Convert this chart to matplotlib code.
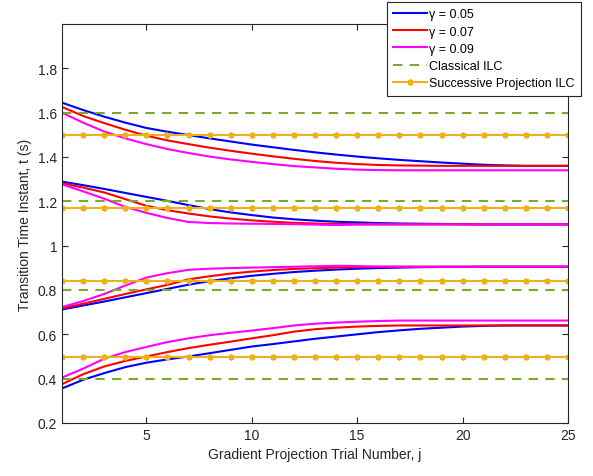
import matplotlib
matplotlib.use("Agg")
import matplotlib.pyplot as plt
import numpy as np

plt.rcParams['font.family'] = ['Liberation Sans', 'DejaVu Sans']

j = np.arange(1, 26)

# gamma = 0.05 (blue)
blue_1 = [1.645, 1.612, 1.582, 1.555, 1.531, 1.514, 1.499, 1.484, 1.470, 1.456, 1.444, 1.432, 1.421,
          1.411, 1.402, 1.394, 1.387, 1.381, 1.375, 1.370, 1.365, 1.362, 1.360, 1.360, 1.360]
blue_2 = [1.289, 1.273, 1.256, 1.238, 1.220, 1.202, 1.183, 1.165, 1.150, 1.138, 1.127, 1.119, 1.113,
          1.108, 1.105, 1.102, 1.100, 1.099, 1.098, 1.097, 1.096, 1.096, 1.096, 1.096, 1.096]
blue_3 = [0.712, 0.730, 0.748, 0.767, 0.786, 0.805, 0.824, 0.840, 0.853, 0.864, 0.873, 0.881, 0.887,
          0.892, 0.896, 0.899, 0.901, 0.903, 0.904, 0.904, 0.905, 0.905, 0.905, 0.905, 0.905]
blue_4 = [0.356, 0.395, 0.425, 0.452, 0.472, 0.487, 0.500, 0.515, 0.530, 0.545, 0.556, 0.568, 0.580,
          0.590, 0.600, 0.610, 0.618, 0.625, 0.630, 0.635, 0.638, 0.640, 0.640, 0.640, 0.640]

# gamma = 0.07 (red)
red_1 = [1.626, 1.585, 1.553, 1.523, 1.496, 1.475, 1.458, 1.442, 1.428, 1.415, 1.403, 1.392, 1.382,
         1.374, 1.368, 1.364, 1.362, 1.361, 1.360, 1.360, 1.360, 1.360, 1.360, 1.360, 1.360]
red_2 = [1.282, 1.262, 1.240, 1.210, 1.180, 1.160, 1.145, 1.132, 1.122, 1.114, 1.108, 1.103, 1.100,
         1.098, 1.097, 1.096, 1.096, 1.096, 1.096, 1.096, 1.096, 1.096, 1.096, 1.096, 1.096]
red_3 = [0.717, 0.738, 0.760, 0.782, 0.803, 0.823, 0.848, 0.862, 0.874, 0.883, 0.890, 0.895, 0.898,
         0.901, 0.903, 0.904, 0.905, 0.905, 0.905, 0.905, 0.905, 0.905, 0.905, 0.905, 0.905]
red_4 = [0.375, 0.420, 0.455, 0.480, 0.500, 0.520, 0.538, 0.553, 0.567, 0.582, 0.596, 0.612, 0.623,
         0.630, 0.635, 0.638, 0.640, 0.640, 0.640, 0.640, 0.640, 0.640, 0.640, 0.640, 0.640]

# gamma = 0.09 (magenta)
mag_1 = [1.600, 1.555, 1.515, 1.484, 1.458, 1.436, 1.418, 1.402, 1.389, 1.378, 1.368, 1.359, 1.353,
         1.347, 1.343, 1.341, 1.340, 1.340, 1.340, 1.340, 1.340, 1.340, 1.340, 1.340, 1.340]
mag_2 = [1.277, 1.245, 1.212, 1.175, 1.148, 1.125, 1.107, 1.102, 1.100, 1.099, 1.098, 1.097, 1.095,
         1.093, 1.095, 1.096, 1.096, 1.096, 1.096, 1.096, 1.096, 1.096, 1.096, 1.096, 1.096]
mag_3 = [0.723, 0.750, 0.782, 0.820, 0.856, 0.876, 0.891, 0.896, 0.899, 0.901, 0.903, 0.905, 0.907,
         0.909, 0.908, 0.906, 0.905, 0.905, 0.905, 0.905, 0.905, 0.905, 0.905, 0.905, 0.905]
mag_4 = [0.405, 0.445, 0.490, 0.520, 0.543, 0.565, 0.582, 0.596, 0.607, 0.617, 0.628, 0.640, 0.648,
         0.653, 0.657, 0.660, 0.662, 0.662, 0.662, 0.662, 0.662, 0.662, 0.662, 0.662, 0.662]

classical_levels = [1.6, 1.2, 0.8, 0.4]
sp_levels = [1.5, 1.17, 0.84, 0.5]

legend_labels = ['γ = 0.05', 'γ = 0.07', 'γ = 0.09', 'Classical ILC', 'Successive Projection ILC']
yticks = [0.2, 0.4, 0.6, 0.8, 1.0, 1.2, 1.4, 1.6, 1.8]
ytick_labels = ['0.2', '0.4', '0.6', '0.8', '1', '1.2', '1.4', '1.6', '1.8']
xticks = [5, 10, 15, 20, 25]

fig = plt.figure(figsize=(5.93, 4.77), dpi=100)
ax = fig.add_axes([62/593, 53/477, 506/593, 399/477])

lw = 1.5
handles = []
for series, color in [((blue_1, blue_2, blue_3, blue_4), 'blue'),
                      ((red_1, red_2, red_3, red_4), 'red'),
                      ((mag_1, mag_2, mag_3, mag_4), 'magenta')]:
    for k, s in enumerate(series):
        ln, = ax.plot(j, s, color=color, lw=lw)
        if k == 0:
            handles.append(ln)

green = '#77AC30'
orange = '#EDB120'
hc = None
for lv in classical_levels:
    hc, = ax.plot(j, np.full(len(j), lv), color=green, lw=lw, ls=(0, (4.5, 3.5)))
hs = None
for lv in sp_levels:
    hs, = ax.plot(j, np.full(len(j), lv), color=orange, lw=lw, marker=(8, 2, 0), ms=4.5,
                  markeredgewidth=1.0)
handles += [hc, hs]

ax.set_xlim(1, 25)
ax.set_ylim(0.2, 2.0)
ax.set_xticks(xticks)
ax.set_yticks(yticks)
ax.set_yticklabels(ytick_labels)

axc = '#262626'
for sp in ax.spines.values():
    sp.set_color(axc)
    sp.set_linewidth(0.8)
ax.tick_params(direction='in', which='both', top=True, right=True, length=4,
               width=0.8, colors=axc, labelsize=10, labelcolor=axc)
ax.set_xlabel('Gradient Projection Trial Number, j', fontsize=10, color=axc)
ax.set_ylabel('Transition Time Instant, t (s)', fontsize=10, color=axc)

leg = ax.legend(handles, legend_labels,
                loc='upper right', bbox_to_anchor=(1.026, 1.055), fontsize=9,
                handlelength=2.7, handletextpad=0.2, labelspacing=0.42,
                borderpad=0.5, borderaxespad=0, fancybox=False, framealpha=1)
leg.get_frame().set_edgecolor(axc)
leg.get_frame().set_linewidth(0.8)

fig.savefig('out.png', dpi=100)
